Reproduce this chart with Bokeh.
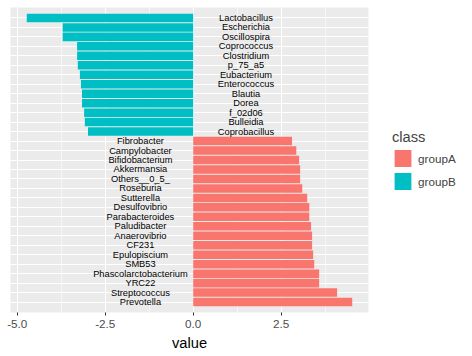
from bokeh.plotting import figure
from bokeh.models import (ColumnDataSource, FactorRange, Range1d, FixedTicker,
                          NumeralTickFormatter, Legend, LegendItem)
from bokeh.core.properties import value
from bokeh.embed import file_html
from bokeh.resources import INLINE

# ---- data (top to bottom as shown) ----
taxa_b = ["Lactobacillus", "Escherichia", "Oscillospira", "Coprococcus", "Clostridium",
          "p_75_a5", "Eubacterium", "Enterococcus", "Blautia", "Dorea", "f_02d06",
          "Bulleidia", "Coprobacillus"]
values_b = [-4.73, -3.71, -3.71, -3.30, -3.30, -3.28, -3.22, -3.19, -3.16, -3.16,
            -3.10, -3.08, -2.99]

taxa_a = ["Fibrobacter", "Campylobacter", "Bifidobacterium", "Akkermansia", "Others__0_5_",
          "Roseburia", "Sutterella", "Desulfovibrio", "Parabacteroides", "Paludibacter",
          "Anaerovibrio", "CF231", "Epulopiscium", "SMB53", "Phascolarctobacterium",
          "YRC22", "Streptococcus", "Prevotella"]
values_a = [2.81, 2.93, 3.01, 3.04, 3.04, 3.10, 3.24, 3.30, 3.30, 3.35, 3.38, 3.38,
            3.41, 3.44, 3.58, 3.58, 4.09, 4.52]

classes = ["groupA", "groupB"]
class_colors = ["#F8766D", "#00BFC4"]
x_ticks = [-5.0, -2.5, 0.0, 2.5]
x_minor = [-3.75, -1.25, 1.25, 3.75]
label_offset = 1.5

FONT = "Liberation Sans"

order_top_to_bottom = taxa_b + taxa_a
factors = list(reversed(order_top_to_bottom))

all_vals = values_a + values_b
lo, hi = min(all_vals), max(all_vals)
pad = 0.05 * (hi - lo)

p = figure(width=472, height=356, output_backend="svg", toolbar_location=None,
           y_range=FactorRange(factors=factors, range_padding=0.6,
                               range_padding_units="absolute"),
           x_range=Range1d(lo - pad, hi + pad))
p.min_border_left = 10
p.min_border_top = 7
p.min_border_bottom = 44
p.min_border_right = 104
p.frame_width = 358
p.frame_height = 305

p.background_fill_color = "#EBEBEB"
p.border_fill_color = "white"
p.outline_line_color = None

src_a = ColumnDataSource(dict(y=taxa_a, v=values_a,
                              lx=[-label_offset] * len(taxa_a)))
src_b = ColumnDataSource(dict(y=taxa_b, v=values_b,
                              lx=[label_offset] * len(taxa_b)))

ra = p.hbar(y="y", right="v", left=0, height=0.9, source=src_a,
            fill_color=class_colors[0], line_color=None)
rb = p.hbar(y="y", right="v", left=0, height=0.9, source=src_b,
            fill_color=class_colors[1], line_color=None)

for s in (src_a, src_b):
    p.text(x="lx", y="y", text="y", source=s, text_align="center",
           text_baseline="middle", text_font=value(FONT),
           text_font_size="9.3px", text_color="black")

# grids
p.xgrid.ticker = FixedTicker(ticks=x_ticks, minor_ticks=x_minor)
p.xgrid.grid_line_color = "white"
p.xgrid.grid_line_width = 1.1
p.xgrid.minor_grid_line_color = "white"
p.xgrid.minor_grid_line_width = 0.55
p.ygrid.grid_line_color = "white"
p.ygrid.grid_line_width = 1.1

# axes
p.yaxis.visible = False
ax = p.xaxis[0]
ax.ticker = FixedTicker(ticks=x_ticks, minor_ticks=[])
ax.formatter = NumeralTickFormatter(format="0.0")
ax.axis_line_color = None
ax.major_tick_line_color = "#333333"
ax.major_tick_out = 3
ax.major_tick_in = 0
ax.minor_tick_line_color = None
ax.major_label_text_font = FONT
ax.major_label_text_font_size = "11.7px"
ax.major_label_text_color = "#4D4D4D"
ax.major_label_standoff = 4
ax.axis_label = "value"
ax.axis_label_text_font = FONT
ax.axis_label_text_font_size = "14.7px"
ax.axis_label_text_font_style = "normal"
ax.axis_label_text_color = "black"
ax.axis_label_standoff = 4

legend = Legend(items=[LegendItem(label=classes[0], renderers=[ra]),
                       LegendItem(label=classes[1], renderers=[rb])],
                location="center_left")
legend.title = "class"
legend.title_text_font = FONT
legend.title_text_font_size = "14.7px"
legend.title_text_font_style = "normal"
legend.title_standoff = 3
legend.label_text_font = FONT
legend.label_text_font_size = "11.7px"
legend.glyph_width = 21
legend.glyph_height = 21
legend.spacing = 2
legend.label_standoff = 5
legend.padding = 0
legend.margin = 24
legend.border_line_color = None
legend.background_fill_alpha = 0
p.add_layout(legend, "right")

open("out.html", "w").write(file_html(p, INLINE))
